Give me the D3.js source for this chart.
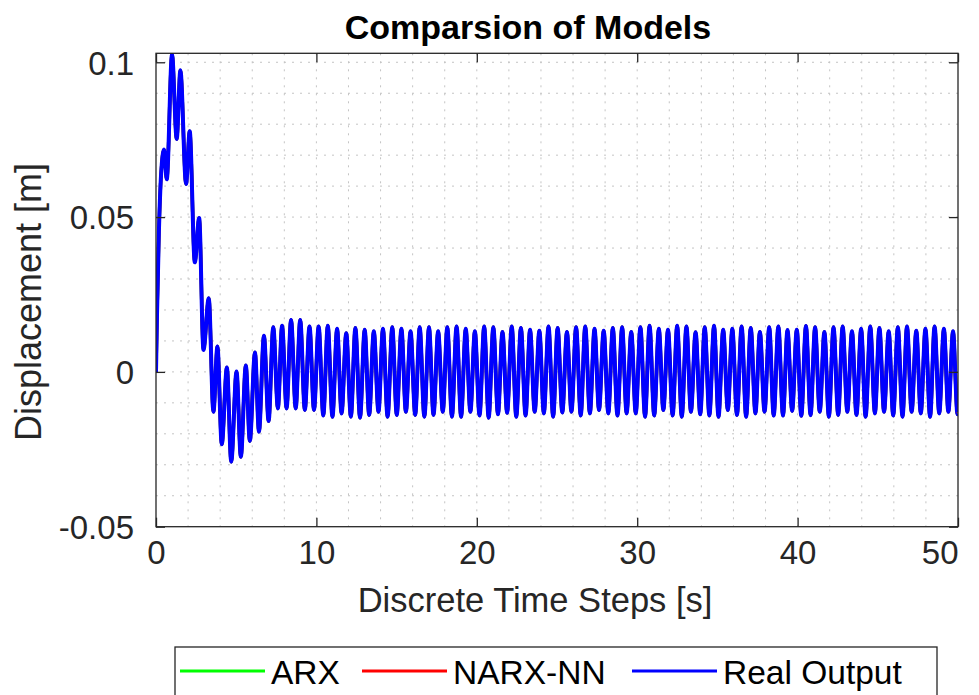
<!DOCTYPE html>
<html>
<head>
<meta charset="utf-8">
<script src="https://cdn.jsdelivr.net/npm/d3@7"></script>
<style>
  html, body { margin: 0; padding: 0; background: #fff; }
  svg { display: block; }
  text { font-family: "Liberation Sans", Arial, Helvetica, sans-serif; fill: #262626; }
</style>
</head>
<body>
<svg id="chart" width="979" height="695"></svg>
<script>
// ---------------- DATA ----------------
const title = "Comparsion of Models";
const xLabel = "Discrete Time Steps [s]";
const yLabel = "Displacement [m]";
const seriesNames = ["ARX", "NARX-NN", "Real Output"];
const seriesColors = ["#00ff00", "#ff0000", "#0000ff"];
const xTicks = [0, 10, 20, 30, 40, 50];
const yTicks = [-0.05, 0, 0.05, 0.1];
const yTickLabels = ["-0.05", "0", "0.05", "0.1"];

// transient part (time, value)
const transientT = [0, 0.06, 0.18, 0.32, 0.5, 0.67, 1.0, 1.29, 1.52, 1.875, 2.1, 2.42, 2.69, 2.96, 3.29, 3.58, 3.83, 4.1, 4.42, 4.69, 5.02, 5.29, 5.6, 5.85, 6.17, 6.42, 6.73, 7.02, 7.31, 7.6, 7.86, 8.14];
const transientV = [0, 0.018, 0.045, 0.064, 0.0718, 0.0622, 0.1025, 0.0752, 0.0974, 0.0607, 0.0777, 0.0354, 0.0497, 0.0071, 0.0238, -0.0129, 0.0082, -0.0234, 0.0014, -0.029, 0.0001, -0.0274, 0.0021, -0.0223, 0.0063, -0.0193, 0.0117, -0.0159, 0.0144, -0.0118, 0.0149, -0.0118];

// steady-state peaks
const peakT = [8.42, 8.99, 9.57, 10.14, 10.71, 11.29, 11.86, 12.43, 13.01, 13.58, 14.15, 14.73, 15.30, 15.87, 16.44, 17.02, 17.59, 18.16, 18.74, 19.31, 19.88, 20.46, 21.03, 21.60, 22.18, 22.75, 23.32, 23.90, 24.47, 25.04, 25.62, 26.19, 26.76, 27.34, 27.91, 28.48, 29.06, 29.63, 30.20, 30.77, 31.35, 31.92, 32.49, 33.07, 33.64, 34.21, 34.79, 35.36, 35.93, 36.51, 37.08, 37.65, 38.23, 38.80, 39.37, 39.95, 40.52, 41.09, 41.67, 42.24, 42.81, 43.39, 43.96, 44.53, 45.10, 45.68, 46.25, 46.82, 47.40, 47.97, 48.54, 49.12, 49.69];
const peakV = [0.0168, 0.0168, 0.0147, 0.0147, 0.0149, 0.0139, 0.0125, 0.0142, 0.0136, 0.0131, 0.0139, 0.0144, 0.0139, 0.0131, 0.0144, 0.0144, 0.0131, 0.0144, 0.0147, 0.0139, 0.0131, 0.0147, 0.0144, 0.0129, 0.0147, 0.0142, 0.0136, 0.0133, 0.0147, 0.0142, 0.0129, 0.0144, 0.0147, 0.0139, 0.0133, 0.0142, 0.0144, 0.0129, 0.0144, 0.0149, 0.0139, 0.0136, 0.0149, 0.0147, 0.0128, 0.0144, 0.0149, 0.0136, 0.0139, 0.0147, 0.0142, 0.0129, 0.0144, 0.0147, 0.0135, 0.0136, 0.0148, 0.0144, 0.0129, 0.0144, 0.0147, 0.0131, 0.0139, 0.0147, 0.0142, 0.0131, 0.0144, 0.0147, 0.0133, 0.0139, 0.0147, 0.0139, 0.0131];

// steady-state troughs
const troughT = [8.71, 9.28, 9.85, 10.43, 11.00, 11.57, 12.15, 12.72, 13.29, 13.87, 14.44, 15.01, 15.58, 16.16, 16.73, 17.30, 17.88, 18.45, 19.02, 19.60, 20.17, 20.74, 21.32, 21.89, 22.46, 23.04, 23.61, 24.18, 24.76, 25.33, 25.90, 26.48, 27.05, 27.62, 28.20, 28.77, 29.34, 29.91, 30.49, 31.06, 31.63, 32.21, 32.78, 33.35, 33.93, 34.50, 35.07, 35.65, 36.22, 36.79, 37.37, 37.94, 38.51, 39.09, 39.66, 40.23, 40.81, 41.38, 41.95, 42.53, 43.10, 43.67, 44.24, 44.82, 45.39, 45.96, 46.54, 47.11, 47.68, 48.26, 48.83, 49.40, 49.97];
const troughV = [-0.0118, -0.0123, -0.0123, -0.0141, -0.0145, -0.0134, -0.0145, -0.0148, -0.0139, -0.0129, -0.0145, -0.0139, -0.0129, -0.0139, -0.0145, -0.0139, -0.0129, -0.0145, -0.0145, -0.0129, -0.0141, -0.0148, -0.0137, -0.0132, -0.0145, -0.0141, -0.0129, -0.0134, -0.0145, -0.0131, -0.0129, -0.0141, -0.0134, -0.0123, -0.0134, -0.0141, -0.0134, -0.0134, -0.0145, -0.0141, -0.0123, -0.0141, -0.0145, -0.0129, -0.0137, -0.0141, -0.0145, -0.0123, -0.0139, -0.0145, -0.0134, -0.0129, -0.0141, -0.0141, -0.0126, -0.0142, -0.0140, -0.0129, -0.0145, -0.0139, -0.0129, -0.0139, -0.0145, -0.0134, -0.0129, -0.0141, -0.0145, -0.0129, -0.0134, -0.0145, -0.0134, -0.0129, -0.0137];

const endT = [50];
const endV = [-0.0135];

// ---------------- BUILD ----------------
const realOutput = []
  .concat(transientT.map((t, i) => ({ t, v: transientV[i] })))
  .concat(peakT.map((t, i) => ({ t, v: peakV[i] })))
  .concat(troughT.map((t, i) => ({ t, v: troughV[i] })))
  .concat(endT.map((t, i) => ({ t, v: endV[i] })))
  .sort((a, b) => a.t - b.t);
// ARX and NARX-NN overlap the real output in the picture
const arx = realOutput;
const narx = realOutput;
const allSeries = [arx, narx, realOutput];

const svg = d3.select("#chart");
const L = 156, R = 958, T = 53.3, B = 526.7;
const x = d3.scaleLinear().domain([0, 50]).range([L, R]);
const y = d3.scaleLinear().domain([-0.05, 0.1029]).range([B, T]);
const axisColor = "#262626";

// grid (dotted, minor + major)
const gridG = svg.append("g");
const xGrid = d3.range(0, 50.001, 2);
const yGrid = d3.range(-5, 10.3, 1).map(d => d / 100);
gridG.selectAll("line.gx").data(xGrid.filter(d => d > 0 && d < 50)).enter().append("line")
  .attr("x1", d => x(d)).attr("x2", d => x(d)).attr("y1", T).attr("y2", B)
  .attr("stroke", "#c4c4c4").attr("stroke-width", 1).attr("stroke-dasharray", "2,6");
gridG.selectAll("line.gy").data(yGrid.filter(d => d > -0.05)).enter().append("line")
  .attr("x1", L).attr("x2", R).attr("y1", d => y(d)).attr("y2", d => y(d))
  .attr("stroke", "#c4c4c4").attr("stroke-width", 1).attr("stroke-dasharray", "2,6");

// lines
svg.append("defs").append("clipPath").attr("id", "clip")
  .append("rect").attr("x", L).attr("y", T).attr("width", R - L).attr("height", B - T);
const line = d3.line().x(d => x(d.t)).y(d => y(d.v)).curve(d3.curveMonotoneX);
const widths = [3.4, 3.4, 4];
allSeries.forEach((s, i) => {
  svg.append("path").datum(s).attr("clip-path", "url(#clip)")
    .attr("d", line).attr("fill", "none")
    .attr("stroke", seriesColors[i]).attr("stroke-width", widths[i])
    .attr("stroke-linejoin", "round");
});

// axes box + inward ticks
const tickLen = 9;
const axG = svg.append("g");
axG.append("rect").attr("x", L).attr("y", T).attr("width", R - L).attr("height", B - T)
  .attr("fill", "none").attr("stroke", axisColor).attr("stroke-width", 1.3);
const xAxisB = d3.axisBottom(x).tickValues(xTicks).tickSize(-tickLen).tickFormat(d3.format("d"));
const xAxisT = d3.axisTop(x).tickValues(xTicks).tickSize(-tickLen).tickFormat("");
const yAxisL = d3.axisLeft(y).tickValues(yTicks).tickSize(-tickLen).tickFormat((d, i) => yTickLabels[i]);
const yAxisR = d3.axisRight(y).tickValues(yTicks).tickSize(-tickLen).tickFormat("");
function styleAxis(g) {
  g.select(".domain").remove();
  g.selectAll(".tick line").attr("stroke", axisColor).attr("stroke-width", 1.3);
  g.selectAll(".tick text").attr("fill", axisColor).style("font-size", "33px")
    .style("font-family", '"Liberation Sans", Arial, sans-serif');
}
svg.append("g").attr("transform", `translate(0,${B})`).call(xAxisB).call(styleAxis)
  .selectAll(".tick text").attr("y", 14).attr("dy", "0.71em")
  .attr("text-anchor", d => d === 50 ? "end" : "middle");
svg.append("g").attr("transform", `translate(0,${T})`).call(xAxisT).call(styleAxis);
svg.append("g").attr("transform", `translate(${L},0)`).call(yAxisL).call(styleAxis)
  .selectAll(".tick text").attr("x", -22).attr("dy", "0.36em");
svg.append("g").attr("transform", `translate(${R},0)`).call(yAxisR).call(styleAxis);

// labels
svg.append("text").attr("x", 528).attr("y", 39).attr("text-anchor", "middle")
  .style("font-size", "34px").style("font-weight", "bold").style("fill", "#000").text(title);
svg.append("text").attr("x", 535).attr("y", 612).attr("text-anchor", "middle")
  .style("font-size", "34.5px").text(xLabel);
svg.append("text").attr("transform", "translate(41,302) rotate(-90)").attr("text-anchor", "middle")
  .style("font-size", "36px").text(yLabel);

// legend
const lg = svg.append("g");
lg.append("rect").attr("x", 175).attr("y", 647).attr("width", 762).attr("height", 70)
  .attr("fill", "#fff").attr("stroke", axisColor).attr("stroke-width", 1.3);
const legX = [180, 362, 632];
const legLen = 85;
seriesNames.forEach((n, i) => {
  lg.append("line").attr("x1", legX[i]).attr("x2", legX[i] + legLen).attr("y1", 671).attr("y2", 671)
    .attr("stroke", seriesColors[i]).attr("stroke-width", 3);
  lg.append("text").attr("x", legX[i] + legLen + 6).attr("y", 684)
    .style("font-size", "33.5px").style("fill", "#000").text(n);
});
</script>
</body>
</html>
